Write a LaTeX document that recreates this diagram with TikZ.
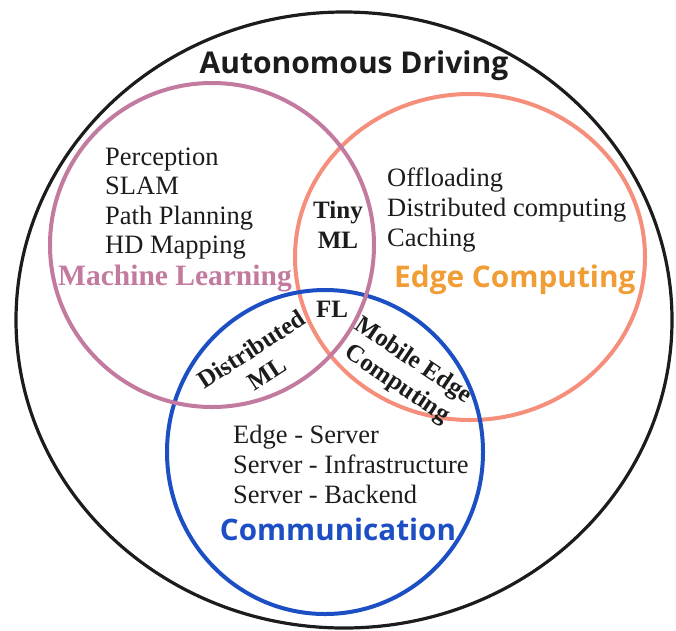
\documentclass[tikz,border=0pt]{standalone}
\usepackage{fontspec}
\setmainfont{Liberation Serif}
\newfontfamily\osans{Open Sans}
\definecolor{mlc}{RGB}{194,122,158}
\definecolor{ecc}{RGB}{245,143,124}
\definecolor{cmc}{RGB}{29,79,196}
\definecolor{orc}{RGB}{240,157,53}
\definecolor{txt}{RGB}{28,28,28}
\tikzset{
  item/.style={anchor=base west, inner sep=0pt, text=txt, font=\fontsize{26.5}{30}\selectfont},
  title/.style={anchor=base west, inner sep=0pt, font=\osans\bfseries\fontsize{30}{34}\selectfont},
  mltitle/.style={anchor=base west, inner sep=0pt, text=mlc, font=\bfseries\fontsize{29.5}{33}\selectfont},
  inter/.style={inner sep=0pt, align=center, text=txt, font=\bfseries\fontsize{25}{28.5}\selectfont},
}
\begin{document}
\begin{tikzpicture}[x=1pt,y=-1pt]
\useasboundingbox (0,0) rectangle (676,630);
% circles
\draw[line width=3.2pt, txt] (344,320) ellipse [x radius=328pt, y radius=308pt];
\draw[line width=4pt, ecc] (470,257) ellipse [x radius=175pt, y radius=163pt];
\draw[line width=4pt, cmc] (325,452) ellipse [x radius=158pt, y radius=162pt];
\draw[line width=4pt, mlc] (212,245) circle [radius=162pt];
% title
\node[title, anchor=base, text=txt] (ad) at (354,73) {Autonomous Driving};
% Machine learning
\node[item] (ml1) at (105,165) {Perception};
\node[item] (ml2) at (105,194) {SLAM};
\node[item] (ml3) at (105,224) {Path Planning};
\node[item] (ml4) at (105,253) {HD Mapping};
\node[mltitle] (mlt) at (58,285) {Machine Learning};
% Edge computing
\node[item] (ec1) at (387,186) {Offloading};
\node[item] (ec2) at (387,216) {Distributed computing};
\node[item] (ec3) at (387,246) {Caching};
\node[title, text=orc, font=\osans\bfseries\fontsize{29.8}{34}\selectfont] (ect) at (394,287) {Edge Computing};
% Communication
\node[item] (cm1) at (233,443) {Edge - Server};
\node[item] (cm2) at (233,473) {Server - Infrastructure};
\node[item] (cm3) at (233,503) {Server - Backend};
\node[title, text=cmc, anchor=base, font=\osans\bfseries\fontsize{29.6}{34}\selectfont] (cmt) at (338,540) {Communication};
% intersections
\node[inter, anchor=base] (tiny) at (338,218) {Tiny};
\node[inter, anchor=base] (tml) at (338,248) {ML};
\node[inter, anchor=base] (fl) at (332,317) {FL};
\node[inter, rotate=33] (dml) at (259,361) {Distributed\\ML};
\node[inter, rotate=-34] (mec) at (405,373) {Mobile Edge\\Computing};
\end{tikzpicture}
\end{document}
